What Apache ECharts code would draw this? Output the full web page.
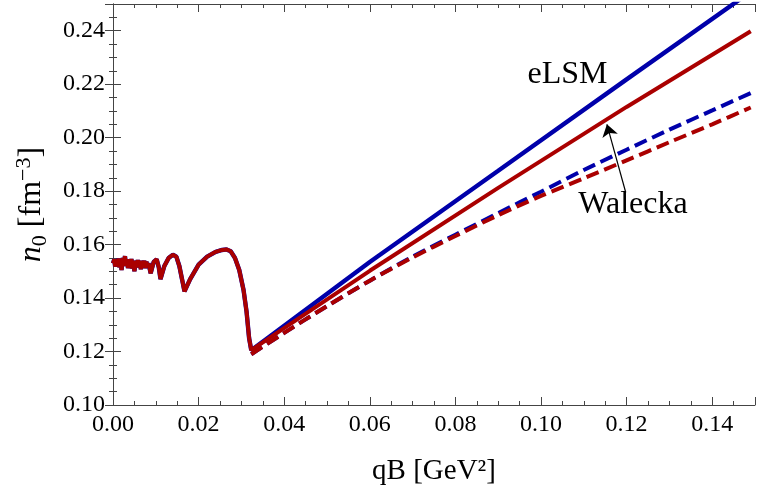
<!DOCTYPE html>
<html><head><meta charset="utf-8">
<script src="https://cdn.jsdelivr.net/npm/echarts@6/dist/echarts.min.js"></script>
<style>html,body{margin:0;padding:0;background:#fff}#c{width:758px;height:495px}</style>
</head><body><div id="c"></div>
<script>
// Low-field oscillating part (shared by solid curves)
const lowQ = [0.0000,0.0003,0.0005,0.0008,0.0010,0.0013,0.0015,0.0018,0.0020,0.0023,0.0025,0.0028,0.0030,0.0033,0.0035,0.0038,0.0040,0.0043,0.0045,0.0048,0.0050,0.0053,0.0055,0.0058,0.0060,0.0063,0.0065,0.0068,0.0070,0.0073,0.0075,0.0078,0.0080,0.0083,0.0088,0.0095,0.0102,0.0107,0.0111,0.0120,0.0130,0.0140,0.0148,0.0155,0.0162,0.0167,0.0180,0.0200,0.0220,0.0240,0.0255,0.0265,0.0275,0.0285,0.0295,0.0305,0.0312,0.0318,0.0323];
const lowN = [0.1530,0.1545,0.1518,0.1540,0.1522,0.1548,0.1515,0.1542,0.1505,0.1550,0.1520,0.1557,0.1525,0.1545,0.1512,0.1543,0.1520,0.1546,0.1510,0.1540,0.1500,0.1538,0.1515,0.1542,0.1518,0.1540,0.1508,0.1538,0.1520,0.1540,0.1512,0.1536,0.1520,0.1530,0.1493,0.1535,0.1545,0.1515,0.1471,0.1520,0.1550,0.1562,0.1555,0.1520,0.1465,0.1425,0.1470,0.1525,0.1555,0.1573,0.1580,0.1582,0.1575,0.1550,0.1505,0.1430,0.1350,0.1250,0.1205];
// High-field branches
const solidQ = [0.0323,0.0600,0.0900,0.1200,0.1490];
const eSolidN = [0.1218,0.1535,0.1876,0.2218,0.2546];
const wSolidN = [0.1210,0.1502,0.1812,0.2115,0.2398];
const dashQ = [0.0323,0.0400,0.0500,0.0600,0.0700,0.0800,0.0900,0.1000,0.1100,0.1200,0.1300,0.1400,0.1490];
const eDashN = [0.1190,0.1270,0.1370,0.1465,0.1555,0.1637,0.1718,0.1798,0.1879,0.1955,0.2030,0.2102,0.2167];
const wDashN = [0.1190,0.1270,0.1370,0.1465,0.1552,0.1632,0.1710,0.1782,0.1848,0.1915,0.1983,0.2050,0.2113];
const xTicks = [0.00,0.02,0.04,0.06,0.08,0.10,0.12,0.14];
const yTicks = [0.10,0.12,0.14,0.16,0.18,0.20,0.22,0.24];

const zip = (a,b) => a.map((v,i)=>[v,b[i]]);
const blue = '#0000aa', red = '#aa0000';
const FONT = '"Liberation Serif", "DejaVu Serif", serif';
const frameColor = '#444';

const axisCommon = {
  axisLine:{show:true, lineStyle:{color:frameColor, width:1}},
  axisTick:{show:true, inside:true, length:8, lineStyle:{color:frameColor}},
  minorTick:{show:true, splitNumber:4, length:4, lineStyle:{color:frameColor}},
  splitLine:{show:false}
};

const chart = echarts.init(document.getElementById('c'), null, {renderer:'canvas'});
chart.setOption({
  animation:false,
  backgroundColor:'#fff',
  grid:{left:113, right:-5, top:4, bottom:90},
  xAxis:[
    Object.assign({type:'value', min:0, max:0.15, interval:0.02, position:'bottom',
      name:'qB [GeV²]', nameLocation:'middle', nameGap:52,
      nameTextStyle:{fontFamily:FONT, fontSize:29, color:'#000'},
      axisLabel:{fontFamily:FONT, fontSize:24, color:'#000', margin:8,
        formatter:v=>{const t=xTicks.find(x=>Math.abs(x-v)<1e-9);return t===undefined?'':t.toFixed(2);}}}, axisCommon),
    Object.assign({type:'value', min:0, max:0.15, interval:0.02, position:'top', axisLabel:{show:false}}, axisCommon)
  ],
  yAxis:[
    Object.assign({type:'value', min:0.10, max:0.25, interval:0.02, position:'left',
      name:'{i|n}{s|0} [fm{p|−3}]', nameLocation:'middle', nameGap:62, nameRotate:90,
      nameTextStyle:{fontFamily:FONT, fontSize:32, color:'#000',
        rich:{
          i:{fontFamily:FONT, fontSize:32, fontStyle:'italic', color:'#000'},
          s:{fontFamily:FONT, fontSize:22, color:'#000', padding:[16,0,0,0]},
          p:{fontFamily:FONT, fontSize:22, color:'#000', padding:[0,0,16,0]}
        }},
      axisLabel:{fontFamily:FONT, fontSize:24, color:'#000', margin:8,
        formatter:v=>{const t=yTicks.find(x=>Math.abs(x-v)<1e-9);return t===undefined?'':t.toFixed(2);}}}, axisCommon),
    Object.assign({type:'value', min:0.10, max:0.25, interval:0.02, position:'right', axisLabel:{show:false}}, axisCommon)
  ],
  series:[
    {type:'line', name:'eLSM solid', data:zip(lowQ,lowN).concat(zip(solidQ,eSolidN).slice(1)), showSymbol:false, clip:true,
      lineStyle:{color:blue, width:4.4}, z:2},
    {type:'line', name:'eLSM dashed', data:zip(dashQ,eDashN), showSymbol:false, clip:true, smooth:0.3,
      lineStyle:{color:blue, width:4, type:[13,6]}, z:2},
    {type:'line', name:'Walecka solid', data:zip(lowQ,lowN).concat(zip(solidQ,wSolidN).slice(1)), showSymbol:false, clip:true,
      lineStyle:{color:red, width:4}, z:3,
      markPoint:{symbol:'circle', symbolSize:0, silent:true,
        label:{show:true, position:'inside', fontFamily:FONT, fontSize:32, color:'#000', formatter:p=>p.name},
        data:[{name:'eLSM', coord:[0.1062,0.2237]},{name:'Walecka', coord:[0.1215,0.1749]}]},
      markLine:{silent:true, symbol:['none','arrow'], symbolSize:12,
        lineStyle:{color:'#000', width:1.2, type:'solid'}, label:{show:false},
        data:[[{coord:[0.1198,0.1795]},{coord:[0.1154,0.2050]}]]}},
    {type:'line', name:'Walecka dashed', data:zip(dashQ,wDashN), showSymbol:false, clip:true, smooth:0.3,
      lineStyle:{color:red, width:4, type:[13,6]}, z:3}
  ]
});
</script></body></html>
